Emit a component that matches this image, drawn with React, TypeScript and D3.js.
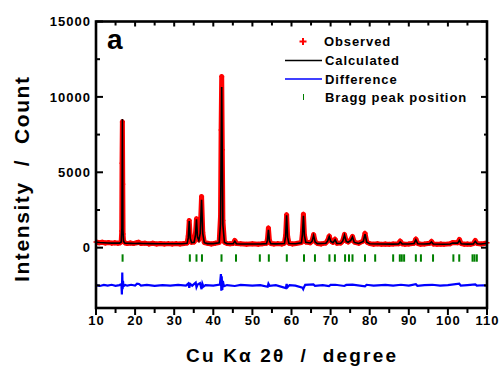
import React, { useEffect, useRef } from 'react'
import * as d3 from 'd3'

// 2theta (deg), intensity (counts)
const observed: [number, number][] = [
    [10, 380], [10.8, 330], [11.6, 360], [12.4, 310], [13.2, 340], [14, 300], [14.8, 330], [15.6, 290],
    [16.2, 330], [16.45, 420], [16.58, 1100], [16.66, 5600], [16.75, 8350], [16.84, 4200], [16.92, 900],
    [17.05, 450], [17.4, 320], [18, 270], [18.8, 310], [19.6, 270], [20.4, 330], [20.9, 360], [21.5, 280],
    [22.5, 300], [23.5, 250], [24.5, 290], [25.5, 250], [26.5, 280], [27.5, 240], [28.5, 270], [29.5, 240],
    [30.5, 270], [31.5, 240], [32.5, 280], [33.3, 310], [33.6, 780], [33.85, 1800], [34.1, 700], [34.45, 350],
    [35.1, 380], [35.45, 980], [35.7, 1920], [35.95, 760], [36.3, 520], [36.65, 1050], [37.0, 3400],
    [37.3, 1000], [37.7, 340], [38.5, 290], [39.5, 250], [40.5, 290], [41.5, 340], [41.85, 2100],
    [42.0, 7800], [42.15, 11350], [42.3, 6500], [42.45, 1800], [42.85, 360], [43.5, 280], [44.3, 260],
    [45.1, 280], [45.5, 480], [45.9, 270], [47, 260], [48.5, 230], [50, 260], [51.5, 230], [52.5, 260],
    [53.6, 290], [53.85, 560], [54.1, 1300], [54.35, 500], [54.7, 280], [55.5, 240], [56.5, 270],
    [57.5, 240], [58.2, 300], [58.5, 820], [58.75, 2180], [59.0, 760], [59.35, 290], [60.2, 250],
    [61.2, 280], [62.55, 340], [62.8, 1000], [63.05, 2220], [63.3, 860], [63.65, 380], [64.8, 330],
    [65.25, 460], [65.65, 870], [66.05, 400], [66.6, 280], [67.6, 250], [68.8, 310], [69.25, 490],
    [69.65, 770], [70.05, 450], [70.6, 350], [71.15, 560], [71.6, 290], [72.6, 310], [73.1, 460],
    [73.55, 880], [74.0, 440], [74.5, 380], [75.15, 510], [75.6, 750], [76.05, 370], [77.2, 290],
    [78.35, 450], [78.8, 950], [79.25, 370], [80, 270], [81, 230], [82, 260], [83, 220], [84, 250],
    [85, 220], [86, 250], [87.4, 260], [87.8, 440], [88.3, 260], [89, 220], [90, 250], [91.35, 300],
    [91.8, 570], [92.3, 270], [93, 230], [94, 250], [95.35, 290], [95.8, 420], [96.25, 250], [97.2, 220],
    [98.2, 250], [99, 220], [100.6, 260], [101.2, 340], [102.5, 320], [102.95, 550], [103.4, 270],
    [104.2, 230], [105, 250], [105.8, 220], [106.5, 270], [107.0, 480], [107.5, 270], [108.5, 250],
    [109.3, 280], [110, 320]
]

const calculated: [number, number][] = [
    [10, 360], [11, 340], [12, 330], [13, 315], [14, 305], [15, 300], [16, 300], [16.45, 380],
    [16.62, 1300], [16.75, 8540], [16.88, 1200], [17.05, 420], [17.4, 300], [18, 290], [19, 285],
    [20, 280], [21, 290], [22, 275], [24, 270], [26, 265], [28, 260], [30, 258], [32, 260], [33.3, 290],
    [33.6, 650], [33.85, 1760], [34.1, 620], [34.45, 330], [35.1, 360], [35.45, 850], [35.7, 1880],
    [35.95, 700], [36.3, 480], [36.65, 950], [37.0, 3180], [37.3, 950], [37.7, 330], [38.5, 270],
    [40, 270], [41.5, 320], [41.85, 1600], [42.15, 10660], [42.45, 1500], [42.85, 340], [43.5, 270],
    [45.1, 260], [45.5, 430], [45.9, 260], [47, 245], [50, 240], [52, 245], [53.6, 270], [53.85, 500],
    [54.1, 1190], [54.35, 480], [54.7, 270], [56, 250], [58.2, 280], [58.5, 750], [58.75, 2150],
    [59.0, 700], [59.35, 280], [61, 260], [62.55, 320], [62.8, 900], [63.05, 2120], [63.3, 800],
    [63.65, 360], [64.8, 310], [65.25, 420], [65.65, 800], [66.05, 380], [66.6, 270], [68.8, 290],
    [69.25, 450], [69.65, 730], [70.05, 420], [70.6, 330], [71.15, 520], [71.6, 280], [72.6, 290],
    [73.1, 430], [73.55, 830], [74.0, 420], [74.5, 360], [75.15, 480], [75.6, 710], [76.05, 350],
    [77.2, 280], [78.35, 420], [78.8, 890], [79.25, 360], [80, 260], [83, 240], [86, 235], [87.4, 250],
    [87.8, 380], [88.3, 250], [90, 240], [91.35, 280], [91.8, 520], [92.3, 260], [94, 240], [95.35, 270],
    [95.8, 380], [96.25, 240], [99, 230], [100.6, 240], [101.2, 310], [102.5, 300], [102.95, 490],
    [103.4, 260], [105, 235], [106.5, 250], [107.0, 420], [107.5, 260], [108.5, 240], [110, 290]
]

// obs - calc, plotted shifted down by DIFF_OFFSET
const difference: [number, number][] = [
    [10, 20], [11, -40], [12, 30], [13, -20], [14, 40], [15, -30], [16, 20], [16.5, 80], [16.62, -600],
    [16.72, 850], [16.8, -250], [16.9, 300], [17.05, -60], [17.5, 30], [18, -20], [19, 40], [20, -10],
    [20.5, 110], [21, 90], [21.5, -20], [23, 30], [25, -30], [27, 20], [29, -20], [31, 30], [33, -10],
    [33.6, 120], [33.85, -150], [34.1, 90], [34.6, -20], [35.5, 180], [35.7, -120], [36, 60], [36.6, 150],
    [37.0, -250], [37.2, 120], [37.5, -80], [38, 20], [40, -20], [41.7, 60], [41.95, 750], [42.05, -350],
    [42.15, 600], [42.3, -300], [42.45, 300], [42.7, -60], [43.5, 20], [45.5, -40], [47, 30], [50, -20],
    [52, 20], [53.9, -90], [54.1, 110], [54.4, -30], [56, 20], [58.55, -180], [58.75, 90], [59, -120],
    [59.5, 20], [61, -20], [62.8, -150], [63.0, -250], [63.2, -120], [63.5, 40], [65.6, 60], [66, -30],
    [68, 20], [69.6, -50], [70, 30], [71.2, 40], [73.5, -40], [74, 30], [75.6, 50], [78.8, -60],
    [79.2, 40], [81, -10], [84, 30], [86, -20], [88, 40], [90, -20], [91.8, 80], [92.2, -30], [94, 20],
    [96, 40], [98, -20], [100, 20], [102.9, 110], [103.3, -20], [105, 20], [107, 70], [107.4, -20],
    [109, 10], [110, -10]
]

const braggPositions = [
    16.8, 34.0, 35.7, 37.1, 42.1, 45.8, 51.9, 54.2, 58.8, 63.2, 66.0, 69.7, 71.1, 73.7, 74.7, 75.6,
    78.8, 81.4, 86.0, 87.7, 88.2, 88.8, 91.8, 93.1, 96.2, 101.4, 102.9, 106.3, 106.8, 107.4
]

const xTicks = [10, 20, 30, 40, 50, 60, 70, 80, 90, 100, 110]
const xMinorTicks = [15, 25, 35, 45, 55, 65, 75, 85, 95, 105]
const yTicks = [0, 5000, 10000, 15000]
const yMinorTicks = [-2500, 2500, 7500, 12500]
const legendLabels = ['Observed', 'Calculated', 'Difference', 'Bragg peak position']

const DIFF_OFFSET = -2500
const BRAGG_TOP = -440
const BRAGG_BOTTOM = -930

export default function App() {
    const svgRef = useRef<SVGSVGElement>(null)

    useEffect(() => {
        if (!svgRef.current) return
        const svg = d3.select(svgRef.current)
        svg.selectAll("*").remove()

        const font = "'Liberation Sans', Arial, sans-serif"
        const left = 96, right = 487, top = 21.5, bottom = 308

        const x = d3.scaleLinear().domain([10, 110]).range([left, right])
        const y = d3.scaleLinear().domain([-4000, 15000]).range([bottom, top])

        const g = svg.append("g")

        const line = d3.line<[number, number]>()
            .x(d => x(d[0]))
            .y(d => y(d[1]))

        // observed: dense points drawn as a thick band plus markers
        g.append("path")
            .datum(observed)
            .attr("fill", "none")
            .attr("stroke", "#ff0000")
            .attr("stroke-width", 5)
            .attr("stroke-linejoin", "round")
            .attr("d", line)

        g.selectAll(".obs")
            .data(observed)
            .enter().append("path")
            .attr("class", "obs")
            .attr("d", d => `M${x(d[0]) - 2.5},${y(d[1])}h5M${x(d[0])},${y(d[1]) - 2.5}v5`)
            .attr("stroke", "#ff0000")
            .attr("stroke-width", 1.5)

        // calculated
        g.append("path")
            .datum(calculated)
            .attr("fill", "none")
            .attr("stroke", "#000")
            .attr("stroke-width", 1.6)
            .attr("d", line)

        // difference
        g.append("path")
            .datum(difference.map(d => [d[0], d[1] + DIFF_OFFSET] as [number, number]))
            .attr("fill", "none")
            .attr("stroke", "#0000ff")
            .attr("stroke-width", 2.2)
            .attr("d", line)

        // Bragg ticks
        g.selectAll(".bragg")
            .data(braggPositions)
            .enter().append("line")
            .attr("x1", d => x(d)).attr("x2", d => x(d))
            .attr("y1", y(BRAGG_TOP)).attr("y2", y(BRAGG_BOTTOM))
            .attr("stroke", "#008000")
            .attr("stroke-width", 2)

        // frame
        g.append("rect")
            .attr("x", left).attr("y", top)
            .attr("width", right - left).attr("height", bottom - top)
            .attr("fill", "none")
            .attr("stroke", "#000")
            .attr("stroke-width", 2.6)

        const tick = (x1: number, y1: number, x2: number, y2: number) =>
            g.append("line").attr("x1", x1).attr("y1", y1).attr("x2", x2).attr("y2", y2)
                .attr("stroke", "#000").attr("stroke-width", 2)

        xTicks.forEach(v => { tick(x(v), bottom, x(v), bottom + 7); tick(x(v), top, x(v), top + 5) })
        xMinorTicks.forEach(v => { tick(x(v), bottom, x(v), bottom + 5); tick(x(v), top, x(v), top + 4) })
        yTicks.forEach(v => { tick(left, y(v), left + 7, y(v)); tick(right, y(v), right - 6, y(v)) })
        yMinorTicks.forEach(v => { tick(left, y(v), left + 4, y(v)); tick(right, y(v), right - 3, y(v)) })

        // tick labels
        g.selectAll(".xl")
            .data(xTicks)
            .enter().append("text")
            .attr("x", d => x(d) + 0.5)
            .attr("y", 324.5)
            .attr("text-anchor", "middle")
            .attr("font-family", font)
            .attr("font-weight", "bold")
            .attr("font-size", 13)
            .attr("letter-spacing", 1)
            .text(d => d)

        g.selectAll(".yl")
            .data(yTicks)
            .enter().append("text")
            .attr("x", 91)
            .attr("y", d => y(d) + 4.7)
            .attr("text-anchor", "end")
            .attr("font-family", font)
            .attr("font-weight", "bold")
            .attr("font-size", 13)
            .attr("letter-spacing", 1)
            .text(d => d)

        // axis titles
        g.append("text")
            .attr("x", 186).attr("y", 361.5)
            .attr("font-family", font).attr("font-weight", "bold").attr("font-size", 19)
            .attr("textLength", 210).attr("lengthAdjust", "spacing")
            .style("white-space", "pre")
            .text("Cu K\u03b1 2\u03b8  /  degree")

        g.append("text")
            .attr("transform", "translate(29,282) rotate(-90)")
            .attr("font-family", font).attr("font-weight", "bold").attr("font-size", 21)
            .attr("textLength", 205).attr("lengthAdjust", "spacing")
            .style("white-space", "pre")
            .text("Intensity  /  Count")

        g.append("text")
            .attr("x", 107).attr("y", 48.5)
            .attr("font-family", font).attr("font-weight", "bold").attr("font-size", 28)
            .text("a")

        // legend
        const lg = g.append("g")
        const rowY = [41.5, 60.5, 79, 97]
        lg.append("path")
            .attr("d", `M299.5,${rowY[0]}h7M303,${rowY[0] - 3.5}v7`)
            .attr("stroke", "#ff0000").attr("stroke-width", 2)
        lg.append("line").attr("x1", 285).attr("x2", 322).attr("y1", rowY[1]).attr("y2", rowY[1])
            .attr("stroke", "#000").attr("stroke-width", 1.6)
        lg.append("line").attr("x1", 285).attr("x2", 322).attr("y1", rowY[2]).attr("y2", rowY[2])
            .attr("stroke", "#0000ff").attr("stroke-width", 1.6)
        lg.append("line").attr("x1", 303.5).attr("x2", 303.5).attr("y1", rowY[3] - 3).attr("y2", rowY[3] + 3)
            .attr("stroke", "#008000").attr("stroke-width", 1)

        lg.selectAll(".lt")
            .data(legendLabels)
            .enter().append("text")
            .attr("x", (d, i) => i === 0 ? 324 : 325)
            .attr("y", (d, i) => rowY[i] + 4.7)
            .attr("font-family", font)
            .attr("font-weight", "bold")
            .attr("font-size", 13)
            .attr("letter-spacing", 0.9)
            .text(d => d)
    }, [])

    return (
        <svg ref={svgRef} width={500} height={366} viewBox="0 0 500 366"
            style={{ position: 'absolute', left: 0, top: 0, background: '#fff' }} />
    )
}
